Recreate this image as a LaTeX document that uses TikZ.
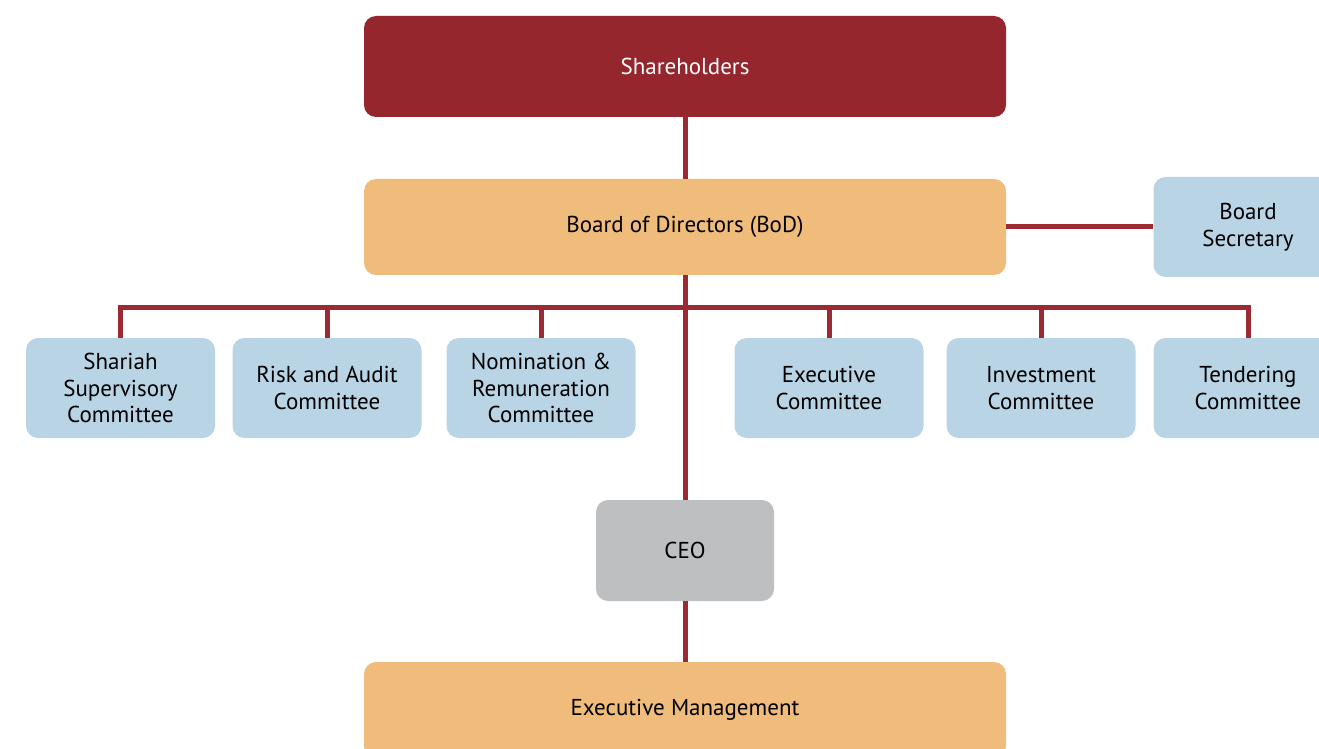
\documentclass[tikz,border=0pt]{standalone}
\usepackage{fontspec}
\setmainfont{PT Sans}
\usepackage{tikz}
\usetikzlibrary{calc,positioning}
\definecolor{wine}{HTML}{96262D}
\definecolor{linkred}{HTML}{9B2A32}
\definecolor{sand}{HTML}{F0BC7C}
\definecolor{skyblue}{HTML}{B9D4E5}
\definecolor{steel}{HTML}{BEBFC1}
\tikzset{%
        every node/.style = {font=\fontsize{11.5}{13.3}\selectfont, align=center, inner sep=0pt, text=black},
        link/.style = {draw=linkred, line width=2.5pt}
}
\tikzstyle{box}=[
    rounded corners = 6pt,
    draw = none
]
\tikzstyle{topbox}=[box, fill=wine, text=white, minimum width=321pt, minimum height=50.5pt]
\tikzstyle{midbox}=[box, fill=sand, minimum width=321pt, minimum height=48pt]
\tikzstyle{combox}=[box, fill=skyblue, minimum width=94.5pt, minimum height=50pt]
\tikzstyle{ceobox}=[box, fill=steel, minimum width=89pt, minimum height=50.5pt]

\begin{document}
\begin{tikzpicture}[x=0.5pt, y=-0.5pt]
        \useasboundingbox (0,0) rectangle (1319,749);
        \node[topbox] (1) at (685,66.5) {Shareholders};
        \node[midbox] (2) at (685,227) {Board of Directors (BoD)};
        \node[combox] (3) at (1248,227) {Board\\Secretary};
        \node[combox] (4) at (120.5,388) {Shariah\\Supervisory\\Committee};
        \node[combox] (5) at (327,388) {Risk and Audit\\Committee};
        \node[combox] (6) at (541,388) {Nomination \&\\Remuneration\\Committee};
        \node[combox] (7) at (829,388) {Executive\\Committee};
        \node[combox] (8) at (1041,388) {Investment\\Committee};
        \node[combox] (9) at (1248,388) {Tendering\\Committee};
        \node[ceobox] (10) at (685,550.5) {CEO};
        \node[midbox] (11) at (685,710) {Executive Management};
        \coordinate (bus) at (685,307);
        \path[link]
        (1) edge (2)
        (2) edge (3)
        (2) edge (10)
        (10) edge (11)
        ;
        \foreach \n in {4,...,9}
            \draw[link] (bus) -| (\n.north);
    \end{tikzpicture}
\end{document}
